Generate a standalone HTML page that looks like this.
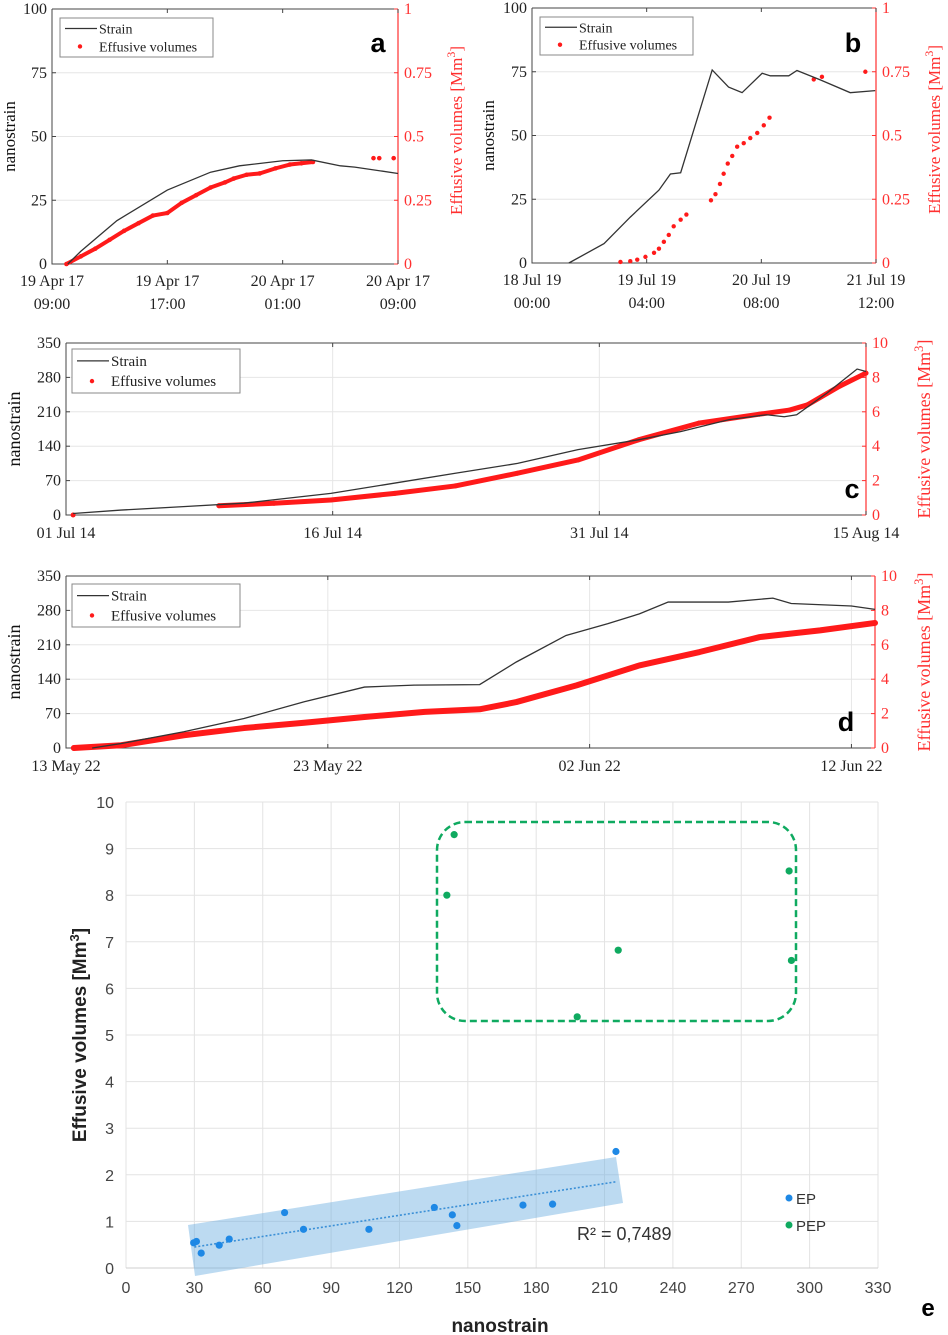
<!DOCTYPE html>
<html><head><meta charset="utf-8">
<style>
html,body{margin:0;padding:0;background:#fff;}
svg{display:block;}
.serif{font-family:"Liberation Serif",serif;}
.sans{font-family:"Liberation Sans",sans-serif;}
</style></head>
<body>
<svg id="fig" width="948" height="1335" viewBox="0 0 948 1335" xmlns="http://www.w3.org/2000/svg"></svg>
<script>
// ---------- Panel a data (hours from 19 Apr 09:00) ----------
const aStrainX = [1.1, 2, 4.5, 8, 11, 13, 16, 18, 20, 21, 24];
const aStrainY = [0, 5, 17, 29, 36, 38.5, 40.5, 40.8, 38.5, 38, 35.5];
const aVolX = [1, 2, 3, 4, 5, 6, 7, 8, 9, 10, 11, 12, 12.6, 13.5, 14.4, 15.5, 16.5, 17.3, 18.1];
const aVolY = [0, 0.03, 0.06, 0.095, 0.13, 0.16, 0.19, 0.2, 0.24, 0.27, 0.3, 0.32, 0.335, 0.35, 0.355, 0.375, 0.39, 0.395, 0.40];
const aVolX2 = [22.3, 22.7, 23.7];
const aVolY2 = [0.415, 0.415, 0.415];
const aTicksY = [0, 25, 50, 75, 100];
const aTicksR = ["0", "0.25", "0.5", "0.75", "1"];
const aTicksX = [["19 Apr 17","09:00"],["19 Apr 17","17:00"],["20 Apr 17","01:00"],["20 Apr 17","09:00"]];

// ---------- Panel b data (hours from 18 Jul 00:00) ----------
const bStrainX = [9, 17.6, 24, 31, 33.8, 36.3, 44, 48, 51.3, 56.2, 58.2, 62.7, 64.7, 70.4, 77.7, 83.8];
const bStrainY = [0, 7.6, 18, 28.6, 34.9, 35.4, 75.7, 69, 66.8, 74.4, 73.4, 73.4, 75.5, 71.8, 66.8, 67.6];
const bVolX = [21.6, 24, 25.7, 27.7, 29.8, 31, 32.2, 33.4, 34.6, 36.3, 37.7, 43.7, 44.8, 45.9, 46.8, 47.8, 48.9, 50.1, 51.7, 53.3, 55, 56.6, 58, 68.8, 70.8, 81.4];
const bVolY = [0.004, 0.007, 0.013, 0.024, 0.04, 0.056, 0.083, 0.11, 0.144, 0.17, 0.19, 0.246, 0.27, 0.31, 0.35, 0.39, 0.42, 0.456, 0.47, 0.49, 0.51, 0.54, 0.57, 0.72, 0.73, 0.75];
const bTicksX = [["18 Jul 19","00:00"],["19 Jul 19","04:00"],["20 Jul 19","08:00"],["21 Jul 19","12:00"]];

// ---------- Panel c data (days from 01 Jul 14) ----------
const cStrainX = [0.4, 3.1, 6.6, 10, 11.7, 14.9, 18.5, 21.9, 25.4, 28.8, 32.2, 34.6, 37.3, 39.4, 40.4, 41.1, 42.8, 44.5, 45];
const cStrainY = [3, 10, 17, 24, 31, 44, 65, 85, 105, 133, 153, 170, 194, 204, 200, 204, 248, 297, 292];
const cVolX = [8.6, 11.7, 14.9, 18.5, 21.9, 25.4, 28.8, 32.2, 35.6, 39, 40.7, 41.7, 43.5, 45];
const cVolY = [0.54, 0.68, 0.87, 1.26, 1.69, 2.43, 3.2, 4.37, 5.34, 5.86, 6.1, 6.4, 7.48, 8.25];
const cTicksY = [0, 70, 140, 210, 280, 350];
const cTicksR = ["0", "2", "4", "6", "8", "10"];
const cTicksX = ["01 Jul 14", "16 Jul 14", "31 Jul 14", "15 Aug 14"];

// ---------- Panel d data (days from 13 May 22) ----------
const dStrainX = [1, 2.1, 4.5, 6.8, 9.1, 11.4, 13.3, 15.8, 17.2, 19.1, 20.7, 21.9, 23, 25.3, 27, 27.7, 30, 30.9];
const dStrainY = [0, 9, 33, 60, 94, 124, 128, 129, 175, 229, 253, 273, 297, 297, 305, 294, 289, 282];
const dVolX = [0.3, 2.1, 4.5, 6.8, 9.1, 11.4, 13.7, 15.8, 17.2, 19.5, 21.9, 24.2, 26.5, 28.8, 30.9];
const dVolY = [0, 0.16, 0.74, 1.16, 1.47, 1.8, 2.1, 2.25, 2.67, 3.64, 4.8, 5.58, 6.45, 6.84, 7.27];
const dTicksX = ["13 May 22", "23 May 22", "02 Jun 22", "12 Jun 22"];

// ---------- Panel e data ----------
const epX = [29.7, 30.9, 33, 40.9, 45.3, 69.6, 77.9, 106.6, 135.3, 143.2, 145.2, 174.2, 187.2, 215];
const epY = [0.54, 0.57, 0.32, 0.49, 0.62, 1.19, 0.83, 0.83, 1.3, 1.14, 0.91, 1.35, 1.37, 2.5];
const pepX = [140.8, 144, 198, 216, 291, 292];
const pepY = [8.0, 9.3, 5.39, 6.82, 8.52, 6.6];
const eTicksX = [0, 30, 60, 90, 120, 150, 180, 210, 240, 270, 300, 330];
const eTicksY = [0, 1, 2, 3, 4, 5, 6, 7, 8, 9, 10];
const trendX = [30, 215];
const trendY = [0.45, 1.85];

const NS = "http://www.w3.org/2000/svg";
const svg = document.getElementById("fig");
function mk(tag, attrs, parent, text) {
  const e = document.createElementNS(NS, tag);
  for (const k in attrs) e.setAttribute(k, attrs[k]);
  if (text !== undefined) e.textContent = text;
  (parent || svg).appendChild(e);
  return e;
}
function lin(d0, d1, r0, r1) { return v => r0 + (v - d0) * (r1 - r0) / (d1 - d0); }

function timePanel(p) {
  const g = mk("g", {class: "serif"});
  
  
  const sx = lin(p.x0, p.x1, p.L, p.R);
  const sy = lin(0, p.yMax, p.B, p.T);
  const sr = lin(0, p.rMax, p.B, p.T);
  // grid
  p.ticksY.forEach(v => {
    const l = mk("line", {x1: p.L, x2: p.R, y1: sy(v), y2: sy(v), stroke: "#e6e6e6", "stroke-width": 1}, g);
    
    
  });
  if (p.vgrid) p.xTickVals.forEach(v => {
    const l = mk("line", {x1: sx(v), x2: sx(v), y1: p.T, y2: p.B, stroke: "#e6e6e6", "stroke-width": 1}, g);
    
    
  });
  // axes
  const ax = mk("path", {d: `M${p.L},${p.T}V${p.B}H${p.R}M${p.L},${p.T}H${p.R}`, stroke: "#444", fill: "none", "stroke-width": 1}, g);
  
  
  const ra = mk("line", {x1: p.R, x2: p.R, y1: p.T, y2: p.B, stroke: "#ff3030", "stroke-width": 1.2}, g);
  
  
  // left ticks
  p.ticksY.forEach(v => {
    mk("line", {x1: p.L, x2: p.L + 4, y1: sy(v), y2: sy(v), stroke: "#444"}, g);
    const t = mk("text", {x: p.L - 5, y: sy(v) + 5, "text-anchor": "end", "font-size": p.fs, fill: "#222"}, g, String(v));
    
    
  });
  // right ticks
  p.ticksR.forEach((s, i) => {
    const y = sr(parseFloat(s));
    mk("line", {x1: p.R - 4, x2: p.R, y1: y, y2: y, stroke: "#ff3030"}, g);
    const t = mk("text", {x: p.R + 6, y: y + 5, "font-size": p.fs, fill: "#ff3030"}, g, s);
    
    
  });
  // x ticks
  p.xTickVals.forEach((v, i) => {
    const x = sx(v);
    mk("line", {x1: x, x2: x, y1: p.B, y2: p.B - 4, stroke: "#444"}, g);
    mk("line", {x1: x, x2: x, y1: p.T, y2: p.T + 4, stroke: "#444"}, g);
    const lab = p.xLabels[i];
    if (Array.isArray(lab)) {
      const t = mk("text", {x: x, y: p.B + 22, "text-anchor": "middle", "font-size": p.fs, fill: "#222"}, g, lab[0]);
      
      
      const t2 = mk("text", {x: x, y: p.B + 45, "text-anchor": "middle", "font-size": p.fs, fill: "#222"}, g, lab[1]);
      
      
    } else {
      const t = mk("text", {x: x, y: p.B + 23, "text-anchor": "middle", "font-size": p.fs, fill: "#222"}, g, lab);
      
      
    }
  });
  // volume series (thick red dotted trail)
  p.vol.forEach(([xs, ys, joined]) => {
    if (joined) {
      const pl = mk("polyline", {points: xs.map((x, i) => sx(x) + "," + sr(ys[i])).join(" "), fill: "none", stroke: "#ff1a1a", "stroke-width": p.vw, "stroke-linecap": "round", "stroke-linejoin": "round"}, g);
      
      
    }
    xs.forEach((x, i) => {
      const c = mk("circle", {cx: sx(x), cy: sr(ys[i]), r: p.vr, fill: "#ff1a1a"}, g);
      
      
    });
  });
  // strain line
  const sl = mk("polyline", {points: p.sX.map((x, i) => sx(x) + "," + sy(p.sY[i])).join(" "), fill: "none", stroke: "#333", "stroke-width": 1.3}, g);
  
  
  // legend
  const lg = mk("g", {}, g);
  
  
  const [lx, ly, lw, lh] = p.leg;
  mk("rect", {x: lx, y: ly, width: lw, height: lh, fill: "#fff", stroke: "#888"}, lg);
  mk("line", {x1: lx + 5, x2: lx + 37, y1: ly + lh * 0.27, y2: ly + lh * 0.27, stroke: "#333", "stroke-width": 1.3}, lg);
  const e1 = mk("text", {x: lx + 39, y: ly + lh * 0.27 + 5, "font-size": p.lfs, fill: "#222"}, lg, "Strain");
  
  
  mk("circle", {cx: lx + 20, cy: ly + lh * 0.73, r: 2.2, fill: "#ff1a1a"}, lg);
  const e2 = mk("text", {x: lx + 39, y: ly + lh * 0.73 + 5, "font-size": p.lfs, fill: "#222"}, lg, "Effusive volumes");
  
  
  // titles
  const yt = mk("text", {transform: `translate(${p.ytx},${(p.T + p.B) / 2}) rotate(-90)`, "text-anchor": "middle", "font-size": p.tfs, fill: "#111"}, g, "nanostrain");
  
  
  const rt = mk("text", {transform: `translate(${p.rtx},${(p.T + p.B) / 2 - p.rtoff}) rotate(-90)`, "text-anchor": "middle", "font-size": p.tfs, fill: "#ff3030"}, g);
  
  
  rt.appendChild(document.createTextNode("Effusive volumes [Mm"));
  mk("tspan", {dy: -7, "font-size": p.tfs * 0.7}, rt, "3");
  mk("tspan", {dy: 7}, rt, "]");
  const pl = mk("text", {x: p.lab[0], y: p.lab[1], "font-size": 27, "font-weight": "bold", "font-family": "Liberation Sans, sans-serif", "text-anchor": "middle", fill: "#000"}, g, p.name.slice(-1));
  
  
}

timePanel({name: "panel-a", L: 52, R: 398, T: 9, B: 264, x0: 0, x1: 24, yMax: 100, rMax: 1,
  ticksY: aTicksY, ticksR: aTicksR, xTickVals: [0, 8, 16, 24], xLabels: aTicksX, vgrid: false,
  sX: aStrainX, sY: aStrainY, vol: [[aVolX, aVolY, true], [aVolX2, aVolY2, false]], vw: 4, vr: 2.3,
  fs: 16, lfs: 14, tfs: 17, leg: [60, 18, 153, 39], ytx: 15, rtx: 462, rtoff: 6, lab: [378, 52]});
timePanel({name: "panel-b", L: 532, R: 876, T: 8, B: 263, x0: 0, x1: 84, yMax: 100, rMax: 1,
  ticksY: aTicksY, ticksR: aTicksR, xTickVals: [0, 28, 56, 84], xLabels: bTicksX, vgrid: false,
  sX: bStrainX, sY: bStrainY, vol: [[bVolX, bVolY, false]], vw: 0, vr: 2.2,
  fs: 16, lfs: 14, tfs: 17, leg: [540, 17, 153, 38], ytx: 494, rtx: 940, rtoff: 6, lab: [853, 52]});
timePanel({name: "panel-c", L: 66, R: 866, T: 343, B: 515, x0: 0, x1: 45, yMax: 350, rMax: 10,
  ticksY: cTicksY, ticksR: cTicksR, xTickVals: [0, 15, 30, 45], xLabels: cTicksX, vgrid: true,
  sX: cStrainX, sY: cStrainY, vol: [[[0.4], [0], false], [cVolX, cVolY, true]], vw: 5, vr: 2.5,
  fs: 16, lfs: 15, tfs: 18, leg: [72, 349, 168, 44], ytx: 20, rtx: 930, rtoff: 0, lab: [852, 498]});
timePanel({name: "panel-d", L: 66, R: 875, T: 576, B: 748, x0: 0, x1: 30.9, yMax: 350, rMax: 10,
  ticksY: cTicksY, ticksR: cTicksR, xTickVals: [0, 10, 20, 30], xLabels: dTicksX, vgrid: true,
  sX: dStrainX, sY: dStrainY, vol: [[dVolX, dVolY, true]], vw: 6, vr: 2.5,
  fs: 16, lfs: 15, tfs: 18, leg: [72, 584, 168, 43], ytx: 20, rtx: 930, rtoff: 0, lab: [846, 731]});

// ---------- Panel e ----------
(function () {
  const g = mk("g", {class: "sans"});
  
  
  const L = 126, R = 878, T = 802, B = 1268;
  const sx = lin(0, 330, L, R), sy = lin(0, 10, B, T);
  eTicksX.forEach(v => {
    const l = mk("line", {x1: sx(v), x2: sx(v), y1: T, y2: B, stroke: "#e3e3e3"}, g);
    
    
    const t = mk("text", {x: sx(v), y: B + 25, "text-anchor": "middle", "font-size": 16, fill: "#444"}, g, String(v));
    
    
  });
  eTicksY.forEach(v => {
    const l = mk("line", {x1: L, x2: R, y1: sy(v), y2: sy(v), stroke: v === 0 ? "#cfcfcf" : "#e3e3e3"}, g);
    
    
    const t = mk("text", {x: L - 12, y: sy(v) + 6, "text-anchor": "end", "font-size": 16, fill: "#444"}, g, String(v));
    
    
  });
  // confidence band around EP
  const band = mk("polygon", {points: "188,1225 616,1157 623,1203 195,1276", fill: "#6aaee0", opacity: 0.45}, g);
  
  
  const tl = mk("line", {x1: sx(trendX[0]), y1: sy(trendY[0]), x2: sx(trendX[1]), y2: sy(trendY[1]), stroke: "#3a8fd6", "stroke-width": 1.6, "stroke-dasharray": "2 2"}, g);
  
  
  const box = mk("rect", {x: 437, y: 822, width: 359, height: 199, rx: 28, fill: "none", stroke: "#0faa60", "stroke-width": 2.5, "stroke-dasharray": "7 4"}, g);
  
  
  epX.forEach((x, i) => {
    const c = mk("circle", {cx: sx(x), cy: sy(epY[i]), r: 3.6, fill: "#1e88e5"}, g);
    
    
  });
  pepX.forEach((x, i) => {
    const c = mk("circle", {cx: sx(x), cy: sy(pepY[i]), r: 3.6, fill: "#0faa60"}, g);
    
    
  });
  const r2 = mk("text", {x: 577, y: 1240, "font-size": 18, fill: "#333"}, g, "R² = 0,7489");
  
  
  mk("circle", {cx: 789, cy: 1198, r: 3.5, fill: "#1e88e5"}, g);
  const l1 = mk("text", {x: 796, y: 1204, "font-size": 15, fill: "#333"}, g, "EP");
  
  
  mk("circle", {cx: 789, cy: 1225, r: 3.5, fill: "#0faa60"}, g);
  const l2 = mk("text", {x: 796, y: 1231, "font-size": 15, fill: "#333"}, g, "PEP");
  
  
  const xt = mk("text", {x: 500, y: 1332, "text-anchor": "middle", "font-size": 19, "font-weight": "bold", fill: "#222"}, g, "nanostrain");
  
  
  const yt = mk("text", {transform: "translate(86,1035) rotate(-90)", "text-anchor": "middle", "font-size": 19, "font-weight": "bold", fill: "#222"}, g);
  
  
  yt.appendChild(document.createTextNode("Effusive volumes [Mm"));
  mk("tspan", {dy: -7, "font-size": 13}, yt, "3");
  mk("tspan", {dy: 7}, yt, "]");
  const el = mk("text", {x: 928, y: 1316, "text-anchor": "middle", "font-size": 24, "font-weight": "bold", fill: "#000"}, g, "e");
  
  
})();
</script>
</body></html>
